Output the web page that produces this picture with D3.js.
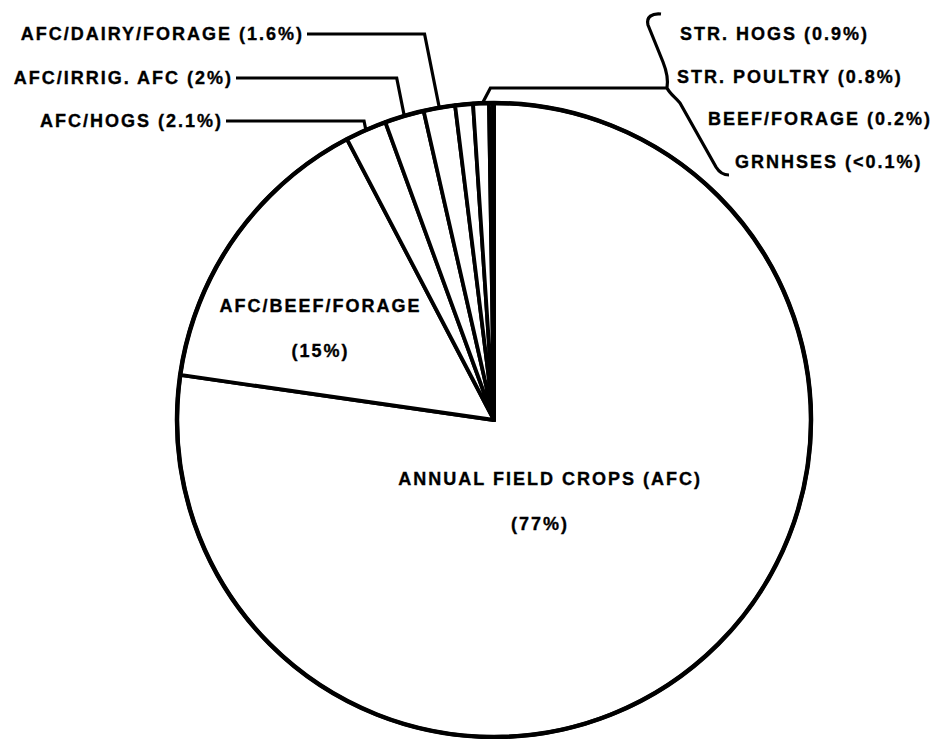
<!DOCTYPE html>
<html>
<head>
<meta charset="utf-8">
<script src="https://cdn.jsdelivr.net/npm/d3@7"></script>
<style>
  body { margin: 0; background: #fff; }
  svg text { font-family: "Liberation Sans", Arial, sans-serif; font-weight: bold; fill: #000;
    stroke: #000; stroke-width: 0.35px; }
</style>
</head>
<body>
<div id="chart"></div>
<script>
// farm types and their share (%)
const categories = ["ANNUAL FIELD CROPS (AFC)", "AFC/BEEF/FORAGE", "AFC/HOGS", "AFC/IRRIG. AFC",
  "AFC/DAIRY/FORAGE", "STR. HOGS", "STR. POULTRY", "BEEF/FORAGE", "GRNHSES"];
const shares = [77, 15, 2.1, 2, 1.6, 0.9, 0.8, 0.2, 0.05];
const shareLabels = ["77%", "15%", "2.1%", "2%", "1.6%", "0.9%", "0.8%", "0.2%", "<0.1%"];

const WIDTH = 932, HEIGHT = 739;
const CX = 494, CY = 420, RADIUS = 317;
const FONT = 18, SPACING = "2px";

// labels inside the pie: centroid at radius fraction k, nudged by dx/dy
const insideLabels = [{i: 0, k: 0.27, dx: 0, dy: 0, pdx: -10}, {i: 1, k: 0.62, dx: -13, dy: 5, pdx: 0}];
// labels on the left with a bent leader line
const leftLabels = [{i: 4, x: 304, y: 40}, {i: 3, x: 233, y: 84}, {i: 2, x: 223, y: 127}];
// labels grouped by a brace on the right
const rightLabels = [{i: 5, x: 680, y: 40}, {i: 6, x: 677, y: 83}, {i: 7, x: 708, y: 125}, {i: 8, x: 735, y: 168}];

const svg = d3.select("#chart").append("svg")
  .attr("width", WIDTH).attr("height", HEIGHT);

const g = svg.append("g").attr("transform", `translate(${CX},${CY})`);

const pie = d3.pie().sort(null).value(d => d);
const arcs = pie(shares);
const arc = d3.arc().innerRadius(0).outerRadius(RADIUS);

g.selectAll("path.slice").data(arcs).enter()
  .append("path")
    .attr("class", "slice")
    .attr("d", arc)
    .style("fill", "#fff")
    .style("stroke", "#000")
    .style("stroke-width", 3.8)
    .style("stroke-linejoin", "round");

g.append("circle").attr("r", RADIUS)
  .style("fill", "none").style("stroke", "#000").style("stroke-width", 4.5);

// point on the rim at a given angle
function rim(a) {
  return [CX + RADIUS * Math.sin(a), CY - RADIUS * Math.cos(a)];
}
const mid = d => (d.startAngle + d.endAngle) / 2;

// inside labels
insideLabels.forEach(function(l) {
  let d = arcs[l.i];
  let c = d3.arc().innerRadius(0).outerRadius(RADIUS * l.k * 2).centroid(d);
  let x = CX + c[0] + l.dx, y = CY + c[1] + l.dy;
  let t = svg.append("text")
    .attr("text-anchor", "middle")
    .attr("font-size", FONT)
    .style("letter-spacing", SPACING);
  t.append("tspan").attr("x", x).attr("y", y).text(categories[l.i]);
  t.append("tspan").attr("x", x + l.pdx).attr("y", y + 45)
    .text(`(${shareLabels[l.i]})`);
});

const line = d3.line();

// left labels with leader lines
leftLabels.forEach(function(l) {
  let d = arcs[l.i];
  let end = rim(mid(d));
  let ly = l.y - 6;
  let knee = [end[0] - (end[1] - ly) * 0.2, ly];
  svg.append("text")
    .attr("x", l.x).attr("y", l.y)
    .attr("text-anchor", "end")
    .attr("font-size", FONT)
    .style("letter-spacing", SPACING)
    .text(`${categories[l.i]} (${shareLabels[l.i]})`);
  svg.append("path")
    .attr("d", line([[l.x + 3, ly], knee, end]))
    .style("fill", "none").style("stroke", "#000").style("stroke-width", 3.2);
});

// right labels
rightLabels.forEach(function(l) {
  svg.append("text")
    .attr("x", l.x).attr("y", l.y)
    .attr("font-size", FONT)
    .style("letter-spacing", SPACING)
    .text(`${categories[l.i]} (${shareLabels[l.i]})`);
});

// brace and its leader to the small slices
let groupAngle = d3.mean(rightLabels, l => mid(arcs[l.i]));
let gEnd = rim(groupAngle);
let tip = [667, 88];
svg.append("path")
  .attr("d", "M661,14 C652,13 646,17 648,25 L663,62 C667,72 668,82 667,88 " +
    "C670,94 675,97 680,103 L716,167 C719,172 723,175 729,175")
  .style("fill", "none").style("stroke", "#000").style("stroke-width", 3.2)
  .style("stroke-linejoin", "round");
svg.append("path")
  .attr("d", line([tip, [gEnd[0] + 8, tip[1]], gEnd]))
  .style("fill", "none").style("stroke", "#000").style("stroke-width", 3.2);
</script>
</body>
</html>
